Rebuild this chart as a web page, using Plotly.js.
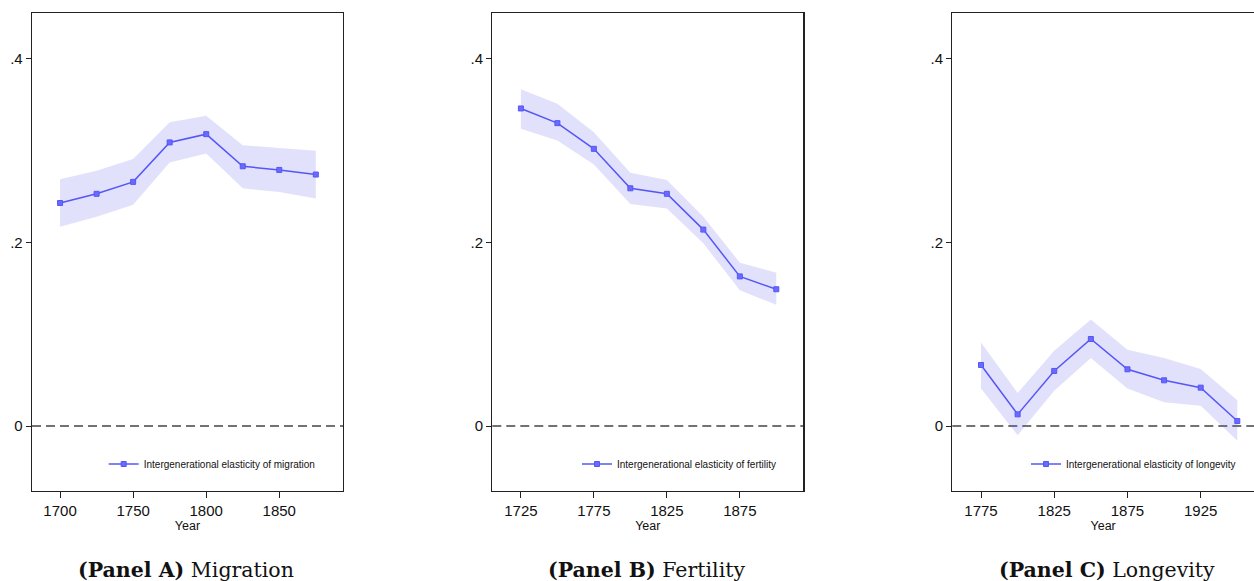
<!DOCTYPE html>
<html>
<head>
<meta charset="utf-8">
<script src="https://cdn.plot.ly/plotly-3.0.1.min.js"></script>
<style>html,body{margin:0;padding:0;background:#fff;}#chart{width:1254px;height:581px;}</style>
</head>
<body>
<div id="chart"></div>
<script>
// ---- data ----
const yearsA = [1700, 1725, 1750, 1775, 1800, 1825, 1850, 1875];
const estA   = [0.243, 0.253, 0.266, 0.309, 0.318, 0.283, 0.279, 0.274];
const upA    = [0.269, 0.278, 0.291, 0.331, 0.338, 0.306, 0.303, 0.300];
const loA    = [0.217, 0.228, 0.241, 0.287, 0.297, 0.259, 0.255, 0.248];

const yearsB = [1725, 1750, 1775, 1800, 1825, 1850, 1875, 1900];
const estB   = [0.346, 0.330, 0.302, 0.259, 0.253, 0.214, 0.163, 0.149];
const upB    = [0.367, 0.351, 0.320, 0.276, 0.268, 0.228, 0.178, 0.167];
const loB    = [0.324, 0.311, 0.285, 0.242, 0.237, 0.199, 0.148, 0.132];

const yearsC = [1775, 1800, 1825, 1850, 1875, 1900, 1925, 1950];
const estC   = [0.0665, 0.0127, 0.060, 0.0948, 0.0618, 0.0498, 0.0418, 0.0054];
const upC    = [0.091, 0.036, 0.082, 0.116, 0.083, 0.074, 0.062, 0.028];
const loC    = [0.041, -0.010, 0.0385, 0.074, 0.041, 0.026, 0.022, -0.016];

const legendNames = ["Intergenerational elasticity of migration",
                     "Intergenerational elasticity of fertility",
                     "Intergenerational elasticity of longevity"];
const captionBold = ["(Panel A)", "(Panel B)", "(Panel C)"];
const captionText = ["Migration", "Fertility", "Longevity"];
const xTicksA = [1700, 1750, 1800, 1850];
const xTicksB = [1725, 1775, 1825, 1875];
const xTicksC = [1775, 1825, 1875, 1925];
const yTickVals = [0, 0.2, 0.4];
const yTickText = ["0", ".2", ".4"];

// ---- styling ----
const lineColor = "#5656f6";
const bandColor = "rgba(95,95,240,0.19)";
const W = 1254, H = 581;

const panels = [
  {x: yearsA, est: estA, up: upA, lo: loA, ticks: xTicksA, range: [1680.8, 1893.6], dom: [32, 343]},
  {x: yearsB, est: estB, up: upB, lo: loB, ticks: xTicksB, range: [1705.4, 1918.5], dom: [492.3, 803.3]},
  {x: yearsC, est: estC, up: upC, lo: loC, ticks: xTicksC, range: [1755.4, 1961.4], dom: [952.3, 1254]}
];

const traces = [];
const layout = {
  width: W, height: H, autosize: false,
  margin: {l: 0, r: 0, t: 0, b: 0, pad: 0},
  paper_bgcolor: "#fff", plot_bgcolor: "#fff",
  font: {family: "Liberation Sans, Arial, sans-serif", color: "#111", size: 14},
  showlegend: true,
  shapes: [], annotations: []
};

const yDom = [(H - 491) / H, (H - 13) / H];
const legendKeys = ["legend", "legend2", "legend3"];
const legendTextStart = [142.7, 616, 1065];

panels.forEach((p, i) => {
  const n = i === 0 ? "" : String(i + 1);
  const xa = "x" + n, ya = "y" + n;
  // confidence band
  traces.push({
    x: p.x.concat(p.x.slice().reverse()),
    y: p.up.concat(p.lo.slice().reverse()),
    xaxis: xa, yaxis: ya, type: "scatter", mode: "lines",
    fill: "toself", fillcolor: bandColor, line: {width: 0, color: bandColor},
    showlegend: false, hoverinfo: "skip"
  });
  // point estimates
  traces.push({
    x: p.x, y: p.est, xaxis: xa, yaxis: ya, type: "scatter", mode: "lines+markers",
    name: legendNames[i], legend: legendKeys[i],
    line: {color: lineColor, width: 1.5},
    marker: {symbol: "square", size: 5, color: "#6a6aff", line: {color: lineColor, width: 1}}
  });

  layout["xaxis" + n] = {
    domain: [p.dom[0] / W, p.dom[1] / W], range: p.range, anchor: ya,
    showgrid: false, zeroline: false,
    showline: true, linecolor: "#222", linewidth: 1.3, mirror: true,
    ticks: "outside", ticklen: 6, tickwidth: 1, tickcolor: "#222",
    tickvals: p.ticks, ticktext: p.ticks.map(String),
    tickfont: {size: 15, color: "#111"},
    title: {text: "Year", font: {size: 12.5, color: "#111"}, standoff: 1}
  };
  layout["yaxis" + n] = {
    domain: yDom, range: [-0.0708, 0.450], anchor: xa,
    showgrid: false, zeroline: false,
    showline: true, linecolor: "#222", linewidth: 1.3, mirror: i < 2,
    ticks: "outside", ticklen: 5, tickwidth: 1, tickcolor: "#222",
    tickvals: yTickVals, ticktext: yTickText,
    tickfont: {size: 15, color: "#111"}
  };
  // zero reference line
  layout.shapes.push({
    type: "line", xref: xa + " domain", yref: ya, x0: 0, x1: 1, y0: 0, y1: 0,
    line: {color: "#444", width: 1.3, dash: "9px,5px"}, layer: "below"
  });
  // legend inside the panel
  layout[legendKeys[i]] = {
    x: (legendTextStart[i] - 39) / W, xanchor: "left",
    y: (H - 464) / H, yanchor: "middle",
    bgcolor: "rgba(0,0,0,0)", borderwidth: 0,
    font: {size: 10, color: "#111"}, itemwidth: 30
  };
  // caption
  const cx = [185.5, 646, 1106.5][i];
  layout.annotations.push({
    xref: "paper", yref: "paper", x: cx / W, y: (H - 570) / H,
    xanchor: "center", yanchor: "middle", showarrow: false,
    text: "<b>" + captionBold[i] + "</b> " + captionText[i],
    font: {family: "DejaVu Serif, serif", size: 20.5, color: "#111"}
  });
});

Plotly.newPlot("chart", traces, layout, {staticPlot: true, displayModeBar: false});
</script>
</body>
</html>
